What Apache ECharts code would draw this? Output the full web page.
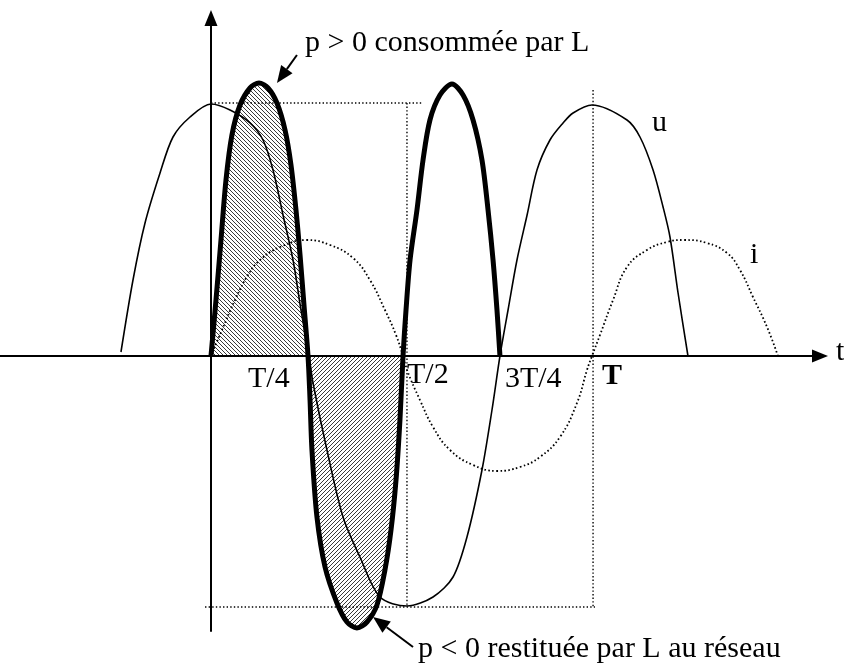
<!DOCTYPE html>
<html>
<head>
<meta charset="utf-8">
<script src="https://cdn.jsdelivr.net/npm/echarts@6/dist/echarts.min.js"></script>
<style>
html, body { margin: 0; padding: 0; background: #fff; }
#main { width: 844px; height: 666px; }
</style>
</head>
<body>
<div id="main"></div>
<script>
// t en degres (T = 360), valeurs rapportees a l'amplitude de u
var uPoints = [[-84.6, 0.016], [-73.3, 0.304], [-62.0, 0.532], [-47.9, 0.732], [-35.7, 0.876], [-19.7, 0.956],
    [0, 1.008], [17.9, 0.984], [36.7, 0.932], [48.9, 0.864], [58.3, 0.744], [67.7, 0.564], [77.1, 0.384],
    [84.6, 0.184], [92.1, 0], [95.9, -0.108], [109.0, -0.376], [124.1, -0.644], [140.0, -0.804],
    [158.8, -0.964], [184.2, -1.0], [208.7, -0.964], [227.5, -0.884], [240.6, -0.724], [254.7, -0.456],
    [264.1, -0.216], [271.6, 0], [279.2, 0.184], [287.6, 0.384], [297.1, 0.564], [306.4, 0.744],
    [318.6, 0.864], [330.9, 0.932], [340.3, 0.972], [358.1, 1.004], [391.0, 0.944], [403.2, 0.876],
    [415.5, 0.744], [424.9, 0.596], [431.4, 0.476], [439.0, 0.252], [448.3, 0]];
var iPoints = [[0, 0], [10.3, 0.104], [22.6, 0.224], [34.8, 0.324], [46.1, 0.384], [64.9, 0.436],
    [90.2, 0.464], [111.9, 0.444], [133.5, 0.392], [149.4, 0.304], [163.5, 0.184], [173.9, 0.084],
    [180.5, 0], [184.2, -0.056], [196.4, -0.176], [208.7, -0.284], [224.6, -0.376], [246.3, -0.436],
    [268.8, -0.46], [290.4, -0.444], [309.2, -0.404], [328.0, -0.324], [344.0, -0.188], [353.4, -0.056],
    [358.1, 0], [365.6, 0.084], [377.9, 0.224], [391.0, 0.356], [409.8, 0.424], [428.6, 0.456],
    [444.6, 0.464], [466.2, 0.452], [485.0, 0.412], [497.2, 0.344], [509.4, 0.236], [522.6, 0.116], [532.9, 0]];
// p = u.i, trois lobes
var pLobe1 = [[0, 0], [4.7, 0.224], [9.4, 0.464], [14.1, 0.704], [19.7, 0.884], [27.3, 1.004], [36.7, 1.072],
    [45.1, 1.092], [53.6, 1.072], [62.0, 1.012], [69.6, 0.904], [75.2, 0.764], [79.9, 0.584], [83.7, 0.404],
    [87.4, 0.204], [91.2, 0]];
var pLobe2 = [[91.2, 0], [93.1, -0.176], [94.9, -0.376], [99.6, -0.644], [107.2, -0.844], [118.4, -0.988],
    [127.8, -1.064], [137.2, -1.088], [146.6, -1.064], [156.0, -0.996], [163.5, -0.856], [169.2, -0.696],
    [173.9, -0.496], [177.6, -0.256], [180.5, 0]];
var pLobe3 = [[180.5, 0], [183.3, 0.184], [187.1, 0.384], [193.6, 0.584], [199.3, 0.784], [205.8, 0.944],
    [215.2, 1.044], [226.5, 1.088], [236.9, 1.044], [246.3, 0.944], [254.7, 0.784], [260.4, 0.584],
    [265.1, 0.384], [268.8, 0.184], [271.6, 0]];
// traits de construction en pointilles
var guideTop = [[0, 1.012], [199.3, 1.012]];
var guideHalf = [[184.2, 1.012], [184.2, -1.004]];
var guidePeriod = [[359.1, 1.064], [359.1, -1.004]];
var guideBottom = [[-5.6, -1.004], [360.9, -1.004]];
// textes
var tickLabels = ['T/4', 'T/2', '3T/4', 'T'];
var tickLabelAt = [[34.8, -0.092], [184.2, -0.076], [276.3, -0.092], [367.5, -0.08]];
var curveLabels = ['u', 'i', 't'];
var curveLabelAt = [[414.5, 0.932], [506.6, 0.404], [587.5, 0.016]];
var notes = ['p > 0 consommée par L', 'p < 0 restituée par L au réseau'];
var noteAt = [[88.4, 1.252], [194.6, -1.172]];
var noteArrowFrom = [[80.8, 1.204], [189.9, -1.164]];
var noteArrowTo = [[62.0, 1.092], [152.3, -1.044]];

var FONT = '"Liberation Serif", "Times New Roman", serif';

function hatch(dir) {
    var c = document.createElement('canvas');
    c.width = 4; c.height = 4;
    var ctx = c.getContext('2d');
    ctx.strokeStyle = '#3a3a3a';
    ctx.lineWidth = 1;
    ctx.beginPath();
    if (dir > 0) { // '/'
        ctx.moveTo(-1, 5); ctx.lineTo(5, -1);
        ctx.moveTo(-1, 1); ctx.lineTo(1, -1);
        ctx.moveTo(3, 5); ctx.lineTo(5, 3);
    } else { // '\'
        ctx.moveTo(-1, -1); ctx.lineTo(5, 5);
        ctx.moveTo(3, -1); ctx.lineTo(5, 1);
        ctx.moveTo(-1, 3); ctx.lineTo(1, 5);
    }
    ctx.stroke();
    return c;
}

function guide(data) {
    return {
        type: 'line', data: data, showSymbol: false, silent: true, z: 1,
        lineStyle: { color: '#000', width: 1.4, type: [1.4, 2.2] }
    };
}

var axisLine = {
    onZero: true,
    symbol: ['none', 'triangle'],
    symbolSize: [13, 16],
    lineStyle: { color: '#000', width: 2 }
};

var chart = echarts.init(document.getElementById('main'));
chart.setOption({
    animation: false,
    grid: { left: 0, right: 24, top: 18, bottom: 35, containLabel: false, outerBoundsMode: 'none' },
    xAxis: {
        type: 'value', min: -198.3, max: 572.4,
        axisLine: axisLine, axisTick: { show: false }, axisLabel: { show: false }, splitLine: { show: false }
    },
    yAxis: {
        type: 'value', min: -1.1, max: 1.352,
        axisLine: axisLine, axisTick: { show: false }, axisLabel: { show: false }, splitLine: { show: false }
    },
    series: [
        {
            type: 'line', data: pLobe1, smooth: 0.3, showSymbol: false, silent: true, z: 0,
            lineStyle: { width: 0 },
            areaStyle: { opacity: 1, color: { image: hatch(-1), repeat: 'repeat' } }
        },
        {
            type: 'line', data: pLobe2, smooth: 0.3, showSymbol: false, silent: true, z: 0,
            lineStyle: { width: 0 },
            areaStyle: { opacity: 1, color: { image: hatch(1), repeat: 'repeat' } }
        },
        guide(guideTop),
        guide(guideHalf),
        guide(guidePeriod),
        guide(guideBottom),
        {
            type: 'line', data: uPoints, smooth: 0.3, showSymbol: false, silent: true, z: 3,
            lineStyle: { color: '#000', width: 1.6 }
        },
        {
            type: 'line', data: iPoints, smooth: 0.45, showSymbol: false, silent: true, z: 3,
            lineStyle: { color: '#000', width: 1.8, type: [1.6, 2.4] }
        },
        {
            type: 'line', data: pLobe1.concat(pLobe2.slice(1), pLobe3.slice(1)), smooth: 0.3,
            showSymbol: false, silent: true, z: 4,
            lineStyle: { color: '#000', width: 5, join: 'round' }
        }
    ]
});

// textes et fleches, places en coordonnees du graphe
function px(p) {
    return chart.convertToPixel({ gridIndex: 0 }, p);
}
var graphics = [];
tickLabels.forEach(function (txt, k) {
    var q = px(tickLabelAt[k]);
    graphics.push({
        type: 'text', x: q[0], y: q[1],
        style: { text: txt, font: (txt === 'T' ? 'bold ' : '') + '30px ' + FONT, fill: '#000', align: 'left', verticalAlign: 'middle' }
    });
});
curveLabels.forEach(function (txt, k) {
    var q = px(curveLabelAt[k]);
    graphics.push({
        type: 'text', x: q[0], y: q[1],
        style: { text: txt, font: '30px ' + FONT, fill: '#000', align: 'left', verticalAlign: 'middle' }
    });
});
notes.forEach(function (txt, k) {
    var q = px(noteAt[k]);
    graphics.push({
        type: 'text', x: q[0], y: q[1],
        style: { text: txt, font: '30px ' + FONT, fill: '#000', align: 'left', verticalAlign: 'middle' }
    });
    var s = px(noteArrowFrom[k]);
    var e = px(noteArrowTo[k]);
    var dx = e[0] - s[0], dy = e[1] - s[1];
    var len = Math.sqrt(dx * dx + dy * dy);
    dx /= len; dy /= len;
    var head = 17, half = 7;
    var bx = e[0] - dx * head, by = e[1] - dy * head;
    graphics.push({
        type: 'line',
        shape: { x1: s[0], y1: s[1], x2: bx, y2: by },
        style: { stroke: '#000', lineWidth: 2 }
    });
    graphics.push({
        type: 'polygon',
        shape: { points: [[e[0], e[1]], [bx - dy * half, by + dx * half], [bx + dy * half, by - dx * half]] },
        style: { fill: '#000' }
    });
});
chart.setOption({ graphic: graphics });
</script>
</body>
</html>
